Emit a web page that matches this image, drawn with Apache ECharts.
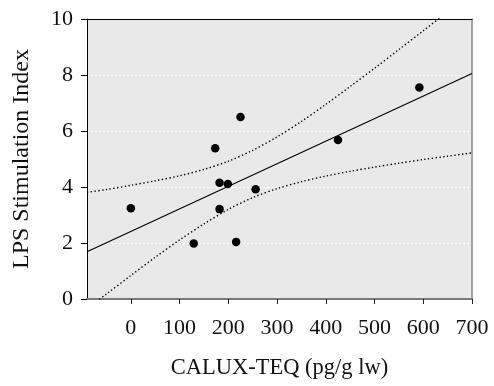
<!DOCTYPE html>
<html>
<head>
<meta charset="utf-8">
<script src="https://cdn.jsdelivr.net/npm/echarts@6/dist/echarts.min.js"></script>
<style>
html,body{margin:0;padding:0;background:#fff;}
#chart{width:494px;height:386px;}
</style>
</head>
<body>
<div id="chart"></div>
<script>
// Observed data points
const teqValues = [0, 129, 173, 182, 182, 199, 216, 225, 256, 425, 592];
const lpsValues = [3.24, 1.98, 5.38, 4.15, 3.21, 4.11, 2.04, 6.50, 3.92, 5.68, 7.55];

// Regression line (at the plot edges)
const fitX = [-90, 700];
const fitY = [1.69, 8.05];

// Confidence band curves
const bandX = [-90, -50, 0, 50, 100, 150, 200, 250, 300, 350, 400, 450, 500, 550, 600, 650, 700];
const upperY = [3.81, 3.91, 4.06, 4.22, 4.40, 4.63, 4.92, 5.31, 5.79, 6.34, 6.95, 7.59, 8.24, 8.91, 9.58, 10.26, 10.95];
const lowerY = [-0.35, 0.18, 0.84, 1.49, 2.11, 2.68, 3.20, 3.62, 3.94, 4.19, 4.39, 4.56, 4.71, 4.85, 4.98, 5.10, 5.22];

// Tick labels
const xTicks = [0, 100, 200, 300, 400, 500, 600, 700];
const yTicks = [0, 2, 4, 6, 8, 10];

const xTitle = 'CALUX-TEQ (pg/g lw)';
const yTitle = 'LPS Stimulation Index';

const pairs = (xs, ys) => xs.map((x, i) => [x, ys[i]]);
const FONT = 'Liberation Serif';

const chart = echarts.init(document.getElementById('chart'), null, {renderer: 'canvas'});
chart.setOption({
  animation: false,
  backgroundColor: '#ffffff',
  grid: {
    left: 87, right: 22, top: 19, bottom: 87,
    show: true, backgroundColor: '#e9e9e9', borderWidth: 0
  },
  xAxis: [{
    type: 'value', min: -90, max: 700, position: 'bottom',
    name: xTitle, nameLocation: 'middle', nameGap: 58,
    nameTextStyle: {fontFamily: FONT, fontSize: 22.5, color: '#111'},
    axisLine: {show: true, onZero: false, lineStyle: {color: '#7a7a7a', width: 2}},
    axisTick: {show: true, customValues: xTicks, length: 5, lineStyle: {color: '#222', width: 1}},
    axisLabel: {customValues: xTicks, fontFamily: FONT, fontSize: 22, color: '#111', margin: 18},
    splitLine: {show: false}
  }, {
    type: 'value', min: -90, max: 700, position: 'top',
    axisLine: {show: true, onZero: false, lineStyle: {color: '#000', width: 1}},
    axisTick: {show: false}, axisLabel: {show: false}, splitLine: {show: false}
  }],
  yAxis: [{
    type: 'value', min: 0, max: 10, interval: 2, position: 'left',
    name: yTitle, nameLocation: 'middle', nameGap: 53,
    nameTextStyle: {fontFamily: FONT, fontSize: 24, color: '#111'},
    axisLine: {show: true, onZero: false, lineStyle: {color: '#000', width: 1}},
    axisTick: {show: true, length: 6, lineStyle: {color: '#000', width: 1}},
    axisLabel: {fontFamily: FONT, fontSize: 22, color: '#111', margin: 14,
      formatter: v => yTicks.includes(v) ? String(v) : ''},
    splitLine: {show: true, lineStyle: {color: '#ffffff', width: 1, type: [2, 2]}}
  }, {
    type: 'value', min: 0, max: 10, interval: 2, position: 'right',
    axisLine: {show: true, onZero: false, lineStyle: {color: '#888', width: 1.5}},
    axisTick: {show: false}, axisLabel: {show: false}, splitLine: {show: false}
  }],
  series: [{
    type: 'line', data: pairs(bandX, upperY), smooth: 0.3, symbol: 'none', clip: true,
    lineStyle: {color: '#000', width: 1.4, type: [1.4, 2.4]}, z: 2
  }, {
    type: 'line', data: pairs(bandX, lowerY), smooth: 0.3, symbol: 'none', clip: true,
    lineStyle: {color: '#000', width: 1.4, type: [1.4, 2.4]}, z: 2
  }, {
    type: 'line', data: pairs(fitX, fitY), symbol: 'none', clip: true,
    lineStyle: {color: '#000', width: 1.1}, z: 3
  }, {
    type: 'scatter', data: pairs(teqValues, lpsValues), symbol: 'circle', symbolSize: 8.5,
    itemStyle: {color: '#000', opacity: 1}, z: 4
  }]
});
</script>
</body>
</html>
